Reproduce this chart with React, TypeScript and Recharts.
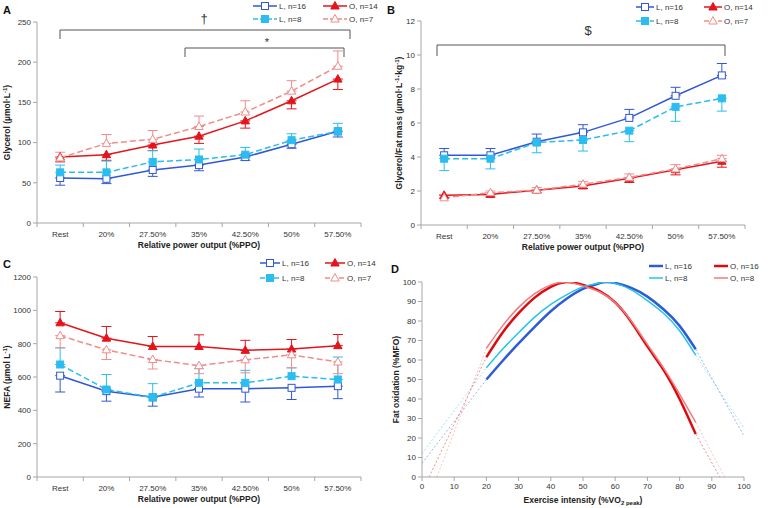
import React from 'react';
import { ComposedChart, LineChart, Line, XAxis, YAxis, ErrorBar } from 'recharts';

const categories = ['Rest', '20%', '27.50%', '35%', '42.50%', '50%', '57.50%'];

// A: glycerol (µmol/L); *End = where the error bar stops
const glyL16 = [56, 55, 66, 72, 82, 98, 114];
const glyL16End = [47, 49, 58, 65, 78, 93, 107];
const glyL8 = [63, 63, 76, 79, 85, 103, 114];
const glyL8End = [72, 77, 90, 92, 94, 111, 124];
const glyO14 = [82, 85, 97, 108, 127, 152, 179];
const glyO14End = [76, 78, 90, 99, 118, 142, 166];
const glyO7 = [81, 99, 104, 120, 138, 164, 195];
const glyO7End = [88, 110, 115, 133, 152, 177, 214];

// B: glycerol / fat mass
const gfmL16 = [4.1, 4.1, 4.9, 5.45, 6.3, 7.6, 8.8];
const gfmL16End = [4.5, 4.5, 5.35, 5.9, 6.8, 8.1, 9.5];
const gfmL8 = [3.9, 3.9, 4.85, 5.0, 5.55, 6.95, 7.45];
const gfmL8End = [3.2, 3.3, 4.25, 4.35, 4.9, 6.1, 6.7];
const gfmO14 = [1.75, 1.8, 2.05, 2.3, 2.75, 3.25, 3.75];
const gfmO14End = [1.55, 1.65, 1.9, 2.15, 2.5, 2.95, 3.4];
const gfmO7 = [1.6, 1.9, 2.05, 2.4, 2.8, 3.3, 3.9];
const gfmO7End = [1.8, 2.0, 2.2, 2.55, 3.0, 3.55, 4.1];

// C: NEFA (µmol/L)
const nefaL16 = [608, 515, 478, 530, 530, 535, 545];
const nefaL16End = [510, 455, 425, 480, 450, 465, 470];
const nefaL8 = [675, 525, 478, 565, 565, 605, 585];
const nefaL8End = [775, 615, 560, 650, 640, 655, 720];
const nefaO14 = [925, 833, 783, 783, 760, 768, 788];
const nefaO14End = [993, 903, 843, 853, 820, 825, 855];
const nefaO7 = [848, 763, 705, 668, 703, 733, 690];
const nefaO7End = [775, 705, 648, 620, 625, 655, 620];

// D: fat oxidation curves (%MFO vs %VO2peak)
const fatXL = [20, 25, 30, 35, 40, 45, 50, 55, 57, 60, 65, 70, 75, 80, 85];
const fatL16 = [50, 59.5, 68.5, 77, 85, 91.5, 96.5, 99.3, 100, 99.5, 97, 92.5, 86, 77.5, 65.5];
const fatL8 = [56, 65.5, 74, 82, 88.5, 93.5, 97.5, 99.5, 100, 99.3, 96, 90.5, 84, 75, 62.5];
const fatXO = [20, 25, 30, 35, 40, 45, 50, 55, 60, 65, 70, 75, 80, 85];
const fatO16 = [61.5, 74, 84, 92, 97.5, 100, 98.5, 95.5, 89.5, 79.5, 67, 55, 40, 22];
const fatO8 = [66, 77.5, 87, 94, 98.5, 100, 98, 95, 89.5, 80, 68, 56, 42.5, 28];
// extrapolated (dashed) ends
const extL16Left = { x: [0, 20], y: [7, 50] };
const extL16Right = { x: [85, 100], y: [65.5, 21] };
const extL8Left = { x: [0, 20], y: [12, 56] };
const extL8Right = { x: [85, 100], y: [62.5, 25] };
const extO16Left = { x: [2.2, 20], y: [0, 61.5] };
const extO16Right = { x: [85, 92.5], y: [22, 0] };
const extO8Left = { x: [4.6, 20], y: [0, 66] };
const extO8Right = { x: [85, 94], y: [28, 0] };

const BLUE = '#3158d4';
const CYAN = '#2bbdf0';
const RED = '#e3151b';
const PINK = '#f08c8c';
const AXIS = '#a6a6a6';
const TXT = '#333';
const FONT = "'Liberation Sans', Arial, sans-serif";

type Marker = 'openSquare' | 'square' | 'triangle' | 'openTriangle';
interface Series {
  key: string;
  name: string;
  color: string;
  dashed: boolean;
  marker: Marker;
  values: number[];
  ends: number[];
}

function makeSeries(values: number[][], ends: number[][]): Series[] {
  const base = [
    { key: 'l16', name: 'L, n=16', color: BLUE, dashed: false, marker: 'openSquare' as Marker },
    { key: 'o14', name: 'O, n=14', color: RED, dashed: false, marker: 'triangle' as Marker },
    { key: 'l8', name: 'L, n=8', color: CYAN, dashed: true, marker: 'square' as Marker },
    { key: 'o7', name: 'O, n=7', color: PINK, dashed: true, marker: 'openTriangle' as Marker },
  ];
  return base.map((b, i) => ({ ...b, values: values[i], ends: ends[i] }));
}

function buildRows(series: Series[]) {
  return categories.map((cat, i) => {
    const row: any = { cat };
    series.forEach((s) => {
      const v = s.values[i];
      const e = s.ends[i];
      row[s.key] = v;
      row[s.key + 'Err'] = e < v ? [v - e, 0] : [0, e - v];
    });
    return row;
  });
}

function drawMarker(kind: Marker, color: string, cx: number, cy: number, key?: any) {
  if (kind === 'openSquare' || kind === 'square') {
    return (
      <rect key={key} x={cx - 3.5} y={cy - 3.5} width={7} height={7}
        fill={kind === 'square' ? color : '#fff'} stroke={color} strokeWidth={1} />
    );
  }
  const pts = `${cx},${cy - 4.5} ${cx + 4.2},${cy + 3} ${cx - 4.2},${cy + 3}`;
  return <polygon key={key} points={pts} fill={kind === 'triangle' ? color : '#fff'} stroke={color} strokeWidth={1} />;
}

function markerShape(kind: Marker, color: string) {
  return (props: any) => {
    const { cx, cy, index } = props;
    if (cx == null || cy == null) return <g key={index} />;
    return drawMarker(kind, color, cx, cy, index);
  };
}

function makeCatTick(bw: number) {
  return (props: any) => {
    const { x, y, payload, index } = props;
    return (
      <g>
        <line x1={x - bw / 2} x2={x - bw / 2} y1={y} y2={y + 4} stroke={AXIS} />
        {index === categories.length - 1 && (
          <line x1={x + bw / 2} x2={x + bw / 2} y1={y} y2={y + 4} stroke={AXIS} />
        )}
        <text x={x} y={y + 14} textAnchor="middle" fontSize={8} fill={TXT} fontFamily={FONT}>
          {payload.value}
        </text>
      </g>
    );
  };
}

interface LegendProps {
  items: { name: string; color: string; dashed: boolean; marker?: Marker; width?: number }[];
  x: number;
  y: number;
  colGap: number;
  rowGap: number;
  lineLen: number;
}

function LegendGrid({ items, x, y, colGap, rowGap, lineLen }: LegendProps) {
  return (
    <g>
      {items.map((it, i) => {
        const lx = x + (i % 2) * colGap;
        const ly = y + Math.floor(i / 2) * rowGap;
        return (
          <g key={it.name + i}>
            <line x1={lx} x2={lx + lineLen} y1={ly} y2={ly} stroke={it.color}
              strokeWidth={it.width ?? 1.5} strokeDasharray={it.dashed ? '5 2' : undefined} />
            {it.marker && drawMarker(it.marker, it.color, lx + lineLen / 2, ly)}
            <text x={lx + lineLen + 2} y={ly + 3} fontSize={8} fill={TXT} fontFamily={FONT}>{it.name}</text>
          </g>
        );
      })}
    </g>
  );
}

interface CatPanelProps {
  left: number;
  top: number;
  series: Series[];
  domain: [number, number];
  ticks: number[];
  plotTop: number;
  plotBottom: number;
  yLabel: React.ReactNode;
  yLabelX: number;
  letter: string;
  legend: { x: number; y: number; colGap: number; rowGap: number; lineLen: number };
  children?: React.ReactNode;
}

const W = 384;
const H = 254;

function CategoryPanel(p: CatPanelProps) {
  const plotLeft = 37;
  const plotRight = 361;
  const bw = (plotRight - plotLeft) / categories.length;
  const rows = buildRows(p.series);
  const xh = 25;
  const yw = 25;
  return (
    <div style={{ position: 'absolute', left: p.left, top: p.top, width: W, height: H }}>
      <ComposedChart width={W} height={H} data={rows}
        margin={{ top: p.plotTop, right: W - plotRight, bottom: H - p.plotBottom - xh, left: plotLeft - yw }}>
        <XAxis dataKey="cat" height={xh} interval={0} tickSize={0} tickMargin={0} tickLine={false}
          padding={{ left: bw / 2, right: bw / 2 }}
          stroke={AXIS} tick={makeCatTick(bw)}
          label={{
            content: () => (
              <text x={(plotLeft + plotRight) / 2} y={p.plotBottom + 25} textAnchor="middle" fontSize={8.5}
                fontWeight="bold" fill="#222" fontFamily={FONT}>Relative power output (%PPO)</text>
            ),
          }} />
        <YAxis width={yw} domain={p.domain} ticks={p.ticks} allowDataOverflow tickSize={4} stroke={AXIS}
          tick={{ fontSize: 8, fill: TXT, fontFamily: FONT }}
          label={{
            content: () => (
              <text x={p.yLabelX} y={(p.plotTop + p.plotBottom) / 2} textAnchor="middle" fontSize={8.5}
                fontWeight="bold" fill="#222" fontFamily={FONT}
                transform={`rotate(-90 ${p.yLabelX} ${(p.plotTop + p.plotBottom) / 2})`}>{p.yLabel}</text>
            ),
          }} />
        {p.series.map((s) => (
          <Line key={s.key} dataKey={s.key} name={s.name} stroke={s.color} strokeWidth={1.5}
            strokeDasharray={s.dashed ? '6 3' : undefined} isAnimationActive={false}
            dot={markerShape(s.marker, s.color)} activeDot={false}>
            <ErrorBar dataKey={s.key + 'Err'} direction="y" width={5} stroke={s.color} strokeWidth={1} />
          </Line>
        ))}
      </ComposedChart>
      <svg width={W} height={H} style={{ position: 'absolute', left: 0, top: 0, pointerEvents: 'none' }}>
        <text x={3} y={14} fontSize={11} fontWeight="bold" fill="#111" fontFamily={FONT}>{p.letter}</text>
        <LegendGrid items={p.series} {...p.legend} />
        {p.children}
      </svg>
    </div>
  );
}

function Bracket({ x1, x2, y, drop }: { x1: number; x2: number; y: number; drop: number }) {
  return (
    <polyline points={`${x1},${y + drop} ${x1},${y} ${x2},${y} ${x2},${y + drop}`}
      fill="none" stroke="#555" strokeWidth={1} />
  );
}

const sup = (t: string) => <tspan dy={-3} fontSize={6}>{t}</tspan>;
const down = (t: string) => <tspan dy={3}>{t}</tspan>;

function xyRows(xs: number[], ys: number[]) {
  return xs.map((x, i) => ({ x, y: ys[i] }));
}

function FatPanel({ left, top }: { left: number; top: number }) {
  const plotLeft = 38;
  const plotRight = 360;
  const plotTop = 28;
  const plotBottom = 223;
  const xh = 25;
  const yw = 25;
  const tens = [0, 10, 20, 30, 40, 50, 60, 70, 80, 90, 100];
  const main = [
    { key: 'l16', name: 'L, n=16', color: '#2f5bd6', width: 2.5, rows: xyRows(fatXL, fatL16) },
    { key: 'o16', name: 'O, n=16', color: '#dd0a10', width: 2.5, rows: xyRows(fatXO, fatO16) },
    { key: 'l8', name: 'L, n=8', color: '#25c3ea', width: 1.5, rows: xyRows(fatXL, fatL8) },
    { key: 'o8', name: 'O, n=8', color: '#f07c7c', width: 1.5, rows: xyRows(fatXO, fatO8) },
  ];
  const ext = [
    { key: 'el16a', color: '#2f5bd6', e: extL16Left },
    { key: 'el16b', color: '#2f5bd6', e: extL16Right },
    { key: 'el8a', color: '#25c3ea', e: extL8Left },
    { key: 'el8b', color: '#25c3ea', e: extL8Right },
    { key: 'eo16a', color: '#dd0a10', e: extO16Left },
    { key: 'eo16b', color: '#dd0a10', e: extO16Right },
    { key: 'eo8a', color: '#f07c7c', e: extO8Left },
    { key: 'eo8b', color: '#f07c7c', e: extO8Right },
  ];
  return (
    <div style={{ position: 'absolute', left, top, width: W, height: H }}>
      <LineChart width={W} height={H}
        margin={{ top: plotTop, right: W - plotRight, bottom: H - plotBottom - xh, left: plotLeft - yw }}>
        <XAxis dataKey="x" type="number" domain={[0, 100]} ticks={tens} allowDataOverflow height={xh}
          tickSize={4} stroke={AXIS} tick={{ fontSize: 8, fill: TXT, fontFamily: FONT }}
          label={{
            content: () => (
              <text x={(plotLeft + plotRight) / 2} y={plotBottom + 26} textAnchor="middle" fontSize={8.5}
                fontWeight="bold" fill="#222" fontFamily={FONT}>
                Exercise intensity (%VO<tspan dy={2} fontSize={6}>2 peak</tspan><tspan dy={-2}>)</tspan>
              </text>
            ),
          }} />
        <YAxis type="number" domain={[0, 100]} ticks={tens} allowDataOverflow width={yw} tickSize={4}
          stroke={AXIS} tick={{ fontSize: 8, fill: TXT, fontFamily: FONT }}
          label={{
            content: () => (
              <text x={15} y={(plotTop + plotBottom) / 2} textAnchor="middle" fontSize={8.5}
                fontWeight="bold" fill="#222" fontFamily={FONT}
                transform={`rotate(-90 15 ${(plotTop + plotBottom) / 2})`}>Fat oxidation (%MFO)</text>
            ),
          }} />
        {ext.map((s) => (
          <Line key={s.key} data={xyRows(s.e.x, s.e.y)} dataKey="y" stroke={s.color} strokeOpacity={0.45}
            strokeWidth={1} strokeDasharray="2 2" dot={false} activeDot={false} isAnimationActive={false} />
        ))}
        {main.map((s) => (
          <Line key={s.key} data={s.rows} dataKey="y" name={s.name} type="natural" stroke={s.color}
            strokeWidth={s.width} dot={false} activeDot={false} isAnimationActive={false} />
        ))}
      </LineChart>
      <svg width={W} height={H} style={{ position: 'absolute', left: 0, top: 0, pointerEvents: 'none' }}>
        <text x={7} y={19} fontSize={11} fontWeight="bold" fill="#111" fontFamily={FONT}>D</text>
        <LegendGrid items={main.map((m) => ({ name: m.name, color: m.color, dashed: false, width: m.width }))}
          x={265} y={12} colGap={65} rowGap={12} lineLen={14} />
      </svg>
    </div>
  );
}

export default function App() {
  const seriesA = makeSeries([glyL16, glyO14, glyL8, glyO7], [glyL16End, glyO14End, glyL8End, glyO7End]);
  const seriesB = makeSeries([gfmL16, gfmO14, gfmL8, gfmO7], [gfmL16End, gfmO14End, gfmL8End, gfmO7End]);
  const seriesC = makeSeries([nefaL16, nefaO14, nefaL8, nefaO7], [nefaL16End, nefaO14End, nefaL8End, nefaO7End]);
  return (
    <div style={{ position: 'absolute', left: 0, top: 0, width: 768, height: 508, background: '#fff', fontFamily: FONT }}>
      <CategoryPanel left={0} top={0} series={seriesA} domain={[0, 250]} ticks={[0, 50, 100, 150, 200, 250]}
        plotTop={22} plotBottom={223} yLabelX={10} letter="A"
        yLabel={<>Glycerol (µmol·L{sup('-1')}{down(')')}</>}
        legend={{ x: 253, y: 6, colGap: 70, rowGap: 13, lineLen: 24 }}>
        <Bracket x1={60} x2={350} y={30} drop={9} />
        <text x={204} y={23} textAnchor="middle" fontSize={13} fill="#333" fontFamily={FONT}>†</text>
        <Bracket x1={185} x2={344} y={48} drop={9} />
        <text x={267} y={46} textAnchor="middle" fontSize={11} fill="#333" fontFamily={FONT}>*</text>
      </CategoryPanel>
      <div style={{ position: 'absolute', left: 384, top: 0 }}>
        <CategoryPanel left={0} top={0} series={seriesB} domain={[0, 12]} ticks={[0, 2, 4, 6, 8, 10, 12]}
          plotTop={21} plotBottom={225} yLabelX={18} letter="B"
          yLabel={<>Glycerol/Fat mass (µmol·L{sup('-1')}{down('·kg')}{sup('-1')}{down(')')}</>}
          legend={{ x: 252, y: 7, colGap: 68, rowGap: 14, lineLen: 18 }}>
          <Bracket x1={53} x2={341} y={45} drop={11} />
          <text x={204} y={35} textAnchor="middle" fontSize={13} fill="#333" fontFamily={FONT}>$</text>
        </CategoryPanel>
      </div>
      <CategoryPanel left={0} top={254} series={seriesC} domain={[0, 1200]}
        ticks={[0, 200, 400, 600, 800, 1000, 1200]} plotTop={23} plotBottom={223} yLabelX={10} letter="C"
        yLabel={<>NEFA (µmol L{sup('-1')}{down(')')}</>}
        legend={{ x: 260, y: 9, colGap: 65, rowGap: 15, lineLen: 20 }} />
      <FatPanel left={384} top={254} />
    </div>
  );
}
